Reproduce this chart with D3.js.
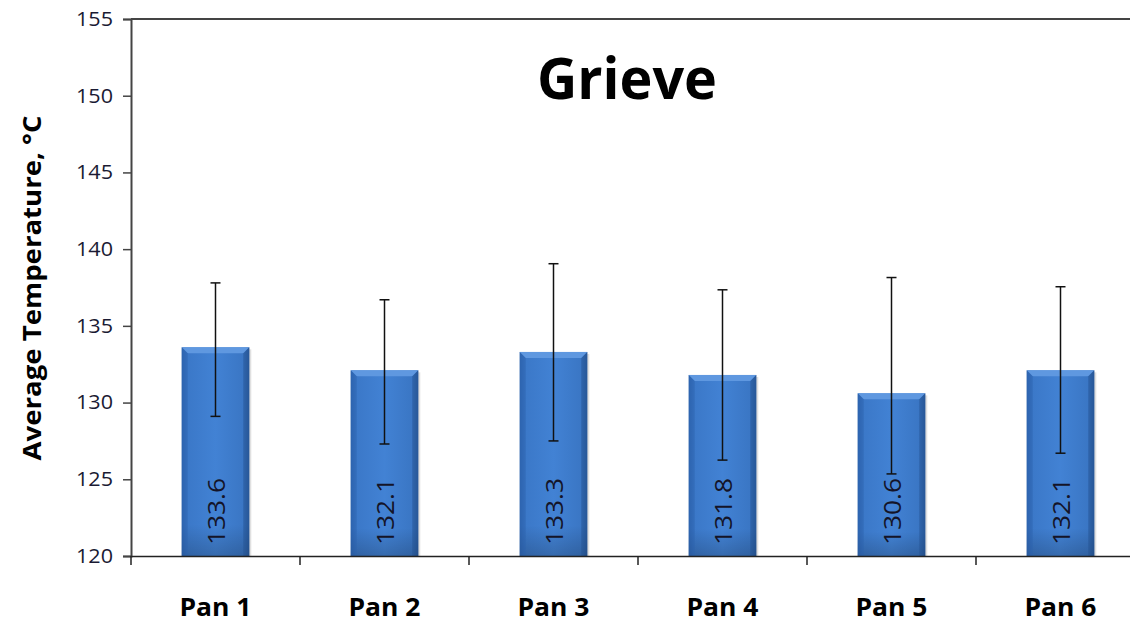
<!DOCTYPE html>
<html><head><meta charset="utf-8">
<script src="https://cdn.jsdelivr.net/npm/d3@7"></script>
<style>body{margin:0;background:#fff}svg{display:block}</style>
</head><body>
<svg id="c" width="1130" height="623"></svg>
<script>
const categories = ["Pan 1","Pan 2","Pan 3","Pan 4","Pan 5","Pan 6"];
const values = [133.6, 132.1, 133.3, 131.8, 130.6, 132.1];
const errUpper = [137.8, 136.7, 139.05, 137.35, 138.15, 137.55];
const errLower = [129.1, 127.3, 127.5, 126.25, 125.35, 126.7];
const yTicks = [120,125,130,135,140,145,150,155];
const title = "Grieve";
const yLabel = "Average Temperature, °C";

const svg = d3.select("#c");
const pLeft = 131, pRight = 1145, pTop = 19, pBottom = 556;
const x = d3.scaleBand().domain(categories).range([pLeft, pRight]).paddingInner(0.6).paddingOuter(0.3);
const xTick = d3.scaleBand().domain(categories).range([pLeft, pRight]);
const y = d3.scaleLinear().domain([120,155]).range([pBottom, pTop]);
const font = "Open Sans, Lato, sans-serif";

const defs = svg.append("defs");
const g1 = defs.append("linearGradient").attr("id","barH").attr("x1","0").attr("x2","1").attr("y1","0").attr("y2","0");
g1.append("stop").attr("offset","0").attr("stop-color","#2f66b0");
g1.append("stop").attr("offset","0.08").attr("stop-color","#3b78c8");
g1.append("stop").attr("offset","0.5").attr("stop-color","#4282d4");
g1.append("stop").attr("offset","0.92").attr("stop-color","#3a76c4");
g1.append("stop").attr("offset","1").attr("stop-color","#2a5ca0");
const g2 = defs.append("linearGradient").attr("id","barV").attr("x1","0").attr("x2","0").attr("y1","0").attr("y2","1");
g2.append("stop").attr("offset","0").attr("stop-color","#000").attr("stop-opacity","0");
g2.append("stop").attr("offset","0.85").attr("stop-color","#000").attr("stop-opacity","0");
g2.append("stop").attr("offset","1").attr("stop-color","#000").attr("stop-opacity","0.18");

// bars
const bars = svg.append("g");
categories.forEach((c,i) => {
  const bx = x(c), bw = x.bandwidth(), by = y(values[i]), bh = pBottom - by;
  bars.append("rect").attr("x",bx+2).attr("y",by+2).attr("width",bw).attr("height",bh-2).attr("fill","#000").attr("opacity",0.12);
  bars.append("rect").attr("x",bx).attr("y",by).attr("width",bw).attr("height",bh).attr("fill","url(#barH)");
  bars.append("rect").attr("x",bx).attr("y",by).attr("width",bw).attr("height",bh).attr("fill","url(#barV)");
  const bv = 6;
  bars.append("path").attr("d",`M${bx},${by}L${bx+bw},${by}L${bx+bw-bv},${by+bv}L${bx+bv},${by+bv}Z`).attr("fill","#5f98e0");
  bars.append("path").attr("d",`M${bx},${by}L${bx+bv},${by+bv}L${bx+bv},${pBottom}L${bx},${pBottom}Z`).attr("fill","#2c62ad").attr("opacity",0.5);
  bars.append("path").attr("d",`M${bx+bw},${by}L${bx+bw-bv},${by+bv}L${bx+bw-bv},${pBottom}L${bx+bw},${pBottom}Z`).attr("fill","#24528f").attr("opacity",0.5);
});

// error bars
const eb = svg.append("g").attr("stroke","#111").attr("stroke-width",1.5);
categories.forEach((c,i) => {
  const cx = x(c) + x.bandwidth()/2;
  eb.append("line").attr("x1",cx).attr("x2",cx).attr("y1",y(errUpper[i])).attr("y2",y(errLower[i]));
  eb.append("line").attr("x1",cx-5).attr("x2",cx+5).attr("y1",y(errUpper[i])).attr("y2",y(errUpper[i]));
  eb.append("line").attr("x1",cx-5).attr("x2",cx+5).attr("y1",y(errLower[i])).attr("y2",y(errLower[i]));
});

// value labels
categories.forEach((c,i) => {
  const cx = x(c) + x.bandwidth()/2;
  svg.append("text").attr("transform",`translate(${cx+9},${545}) rotate(-90)`)
    .attr("font-family",font).attr("font-size",24).attr("textLength",67).attr("lengthAdjust","spacingAndGlyphs")
    .attr("fill","#141428").text(values[i].toFixed(1));
});

// y axis
const yAxis = svg.append("g").attr("transform",`translate(${pLeft},0)`)
  .call(d3.axisLeft(y).tickValues(yTicks).tickSize(8).tickPadding(10));
yAxis.select(".domain").attr("stroke","#444").attr("stroke-width",2);
yAxis.selectAll(".tick line").attr("stroke","#444").attr("stroke-width",1.5);
yAxis.selectAll(".tick text").attr("font-family",font).attr("font-size",20).attr("fill","#1a1a33")
  .attr("textLength",37).attr("lengthAdjust","spacingAndGlyphs");

// top border
svg.append("line").attr("x1",pLeft).attr("x2",1130).attr("y1",pTop).attr("y2",pTop).attr("stroke","#444").attr("stroke-width",2);

// x axis
const xAxis = svg.append("g").attr("transform",`translate(0,${pBottom})`)
  .call(d3.axisBottom(xTick).tickSize(0).tickPadding(42));
xAxis.select(".domain").attr("stroke","#222").attr("stroke-width",1.5);
xAxis.selectAll(".tick text").attr("font-family",font).attr("font-size",25).attr("font-weight","bold").attr("fill","#000")
  .attr("textLength",72).attr("lengthAdjust","spacingAndGlyphs");
const tickPos = categories.map(c => xTick(c)).concat([pRight]);
svg.append("g").selectAll("line").data(tickPos).join("line")
  .attr("x1",d=>d).attr("x2",d=>d).attr("y1",pBottom).attr("y2",pBottom+9).attr("stroke","#222").attr("stroke-width",1.5);

// title
svg.append("text").attr("x",627).attr("y",99).attr("text-anchor","middle")
  .attr("font-family",font).attr("font-size",58).attr("font-weight","bold").attr("fill","#000")
  .attr("textLength",180).attr("lengthAdjust","spacingAndGlyphs").text(title);

// y label
svg.append("text").attr("transform",`translate(41,288) rotate(-90)`).attr("text-anchor","middle")
  .attr("font-family",font).attr("font-size",25).attr("font-weight","bold").attr("fill","#000")
  .attr("textLength",345).attr("lengthAdjust","spacingAndGlyphs").text(yLabel);
</script>
</body></html>
